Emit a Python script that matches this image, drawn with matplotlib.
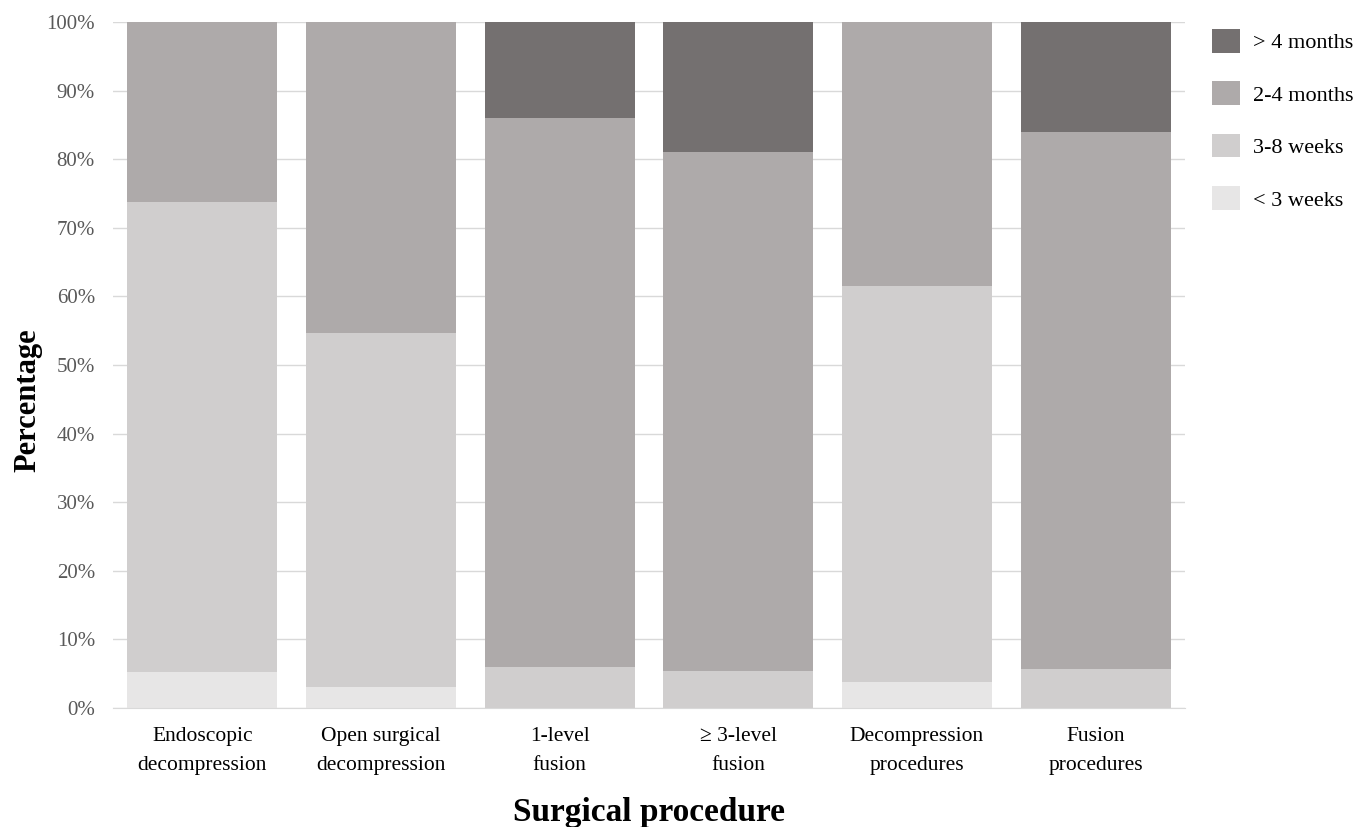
import numpy as np
import matplotlib
matplotlib.use("Agg")
import matplotlib.pyplot as plt
from matplotlib.ticker import PercentFormatter

plt.rcParams['font.family'] = ['Liberation Serif', 'DejaVu Serif']

# Data
categories = ["Endoscopic\ndecompression", "Open surgical\ndecompression", "1-level\nfusion",
              "\u2265 3-level\nfusion", "Decompression\nprocedures", "Fusion\nprocedures"]
lt_3_weeks = [5.2, 3.0, 0.0, 0.0, 3.8, 0.0]
w3_8_weeks = [68.5, 51.6, 6.0, 5.4, 57.7, 5.7]
m2_4_months = [26.3, 45.4, 80.0, 75.7, 38.5, 78.2]
gt_4_months = [0.0, 0.0, 14.0, 18.9, 0.0, 16.1]

series = [("< 3 weeks", lt_3_weeks, "#e7e6e6"),
          ("3-8 weeks", w3_8_weeks, "#d0cece"),
          ("2-4 months", m2_4_months, "#aeaaaa"),
          ("> 4 months", gt_4_months, "#747070")]

fig = plt.figure(figsize=(13.57, 8.27), dpi=100)
ax = fig.add_axes([113 / 1357, 1 - 708 / 827, (1185 - 113) / 1357, (708 - 22) / 827])

x = np.arange(len(categories))
bottom = np.zeros(len(categories))
handles = []
for name, vals, col in series:
    vals = np.array(vals)
    h = ax.bar(x, vals, width=0.84, bottom=bottom, color=col, label=name, zorder=2)
    handles.append(h)
    bottom += vals

ax.set_xlim(-0.5, len(categories) - 0.5)
ax.set_ylim(0, 100)
ax.set_yticks(np.arange(0, 101, 10))
ax.yaxis.set_major_formatter(PercentFormatter(decimals=0))
ax.grid(axis='y', color='#d9d9d9', linewidth=1, zorder=0)
for s in ['top', 'right', 'left']:
    ax.spines[s].set_visible(False)
ax.spines['bottom'].set_color('#d9d9d9')
ax.tick_params(axis='y', length=0, labelsize=15, labelcolor='#595959', pad=13)
ax.tick_params(axis='x', length=0, labelsize=15.5, pad=14)
ax.set_xticks(x)
ax.set_xticklabels(categories, linespacing=1.65)

ax.set_ylabel("Percentage", fontsize=22, fontweight='bold')
ax.yaxis.set_label_coords(-0.066, 0.449)
ax.set_xlabel("Surgical procedure", fontsize=24, fontweight='bold', labelpad=16)

fig.legend(handles[::-1], [s[0] for s in series][::-1], loc='upper left',
           bbox_to_anchor=(1192 / 1357, 1 - 9 / 827), frameon=False, fontsize=16,
           handlelength=1.25, handleheight=1.25, labelspacing=1.27, handletextpad=0.6)

fig.savefig("out.png", dpi=100)
